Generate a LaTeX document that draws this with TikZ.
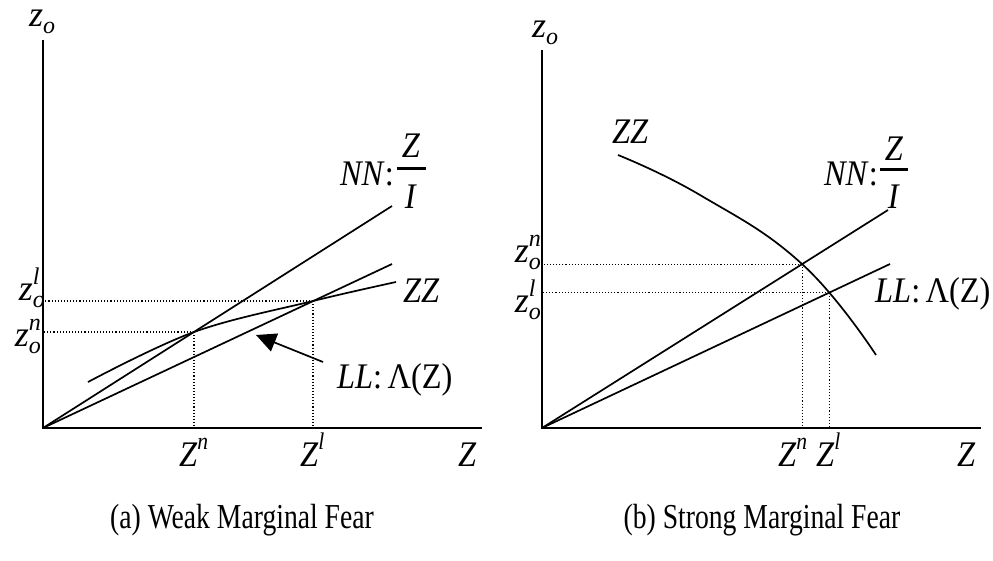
\documentclass[tikz,border=0pt]{standalone}
\usepackage{fontspec}
\usepackage{graphicx}
\setmainfont{Liberation Serif}
\usetikzlibrary{arrows.meta,intersections}
\newcommand\lblfont{\fontsize{36}{40}\selectfont}
\newcommand\scrfont{\fontsize{24}{26}\selectfont}
\newcommand\capfont{\fontsize{35}{38}\selectfont}
\newcommand\sq[1]{\scalebox{0.9}[1]{#1}}
\newcommand\zsub[1]{\textit{z}\makebox[0.36em][l]{\rlap{\raisebox{-0.2em}{\scrfont\textit{o}}}\raisebox{0.42em}{\scrfont\textit{#1}}}}
\newcommand\zonly{\textit{z}\raisebox{-0.2em}{\scrfont\textit{o}}}
\newcommand\Zsup[1]{\textit{Z}\raisebox{0.45em}{\scrfont\textit{#1}}}
\begin{document}
\begin{tikzpicture}[x=1pt,y=-1pt,
  every node/.style={inner sep=0pt, font=\lblfont},
  axis/.style={line width=2.2pt, line join=miter},
  curve/.style={line width=1.7pt},
  guide/.style={dotted, line width=1.1pt},
  fracbar/.style={line width=3pt},
  captext/.style={font=\capfont}]
\useasboundingbox (0,0) rectangle (993,560);

% ---------------- panel (a) ----------------
\coordinate (oA) at (43,428);
\coordinate (yA) at (43,40);
\coordinate (xA) at (482,428);
\coordinate (nnA) at (392,206);
\coordinate (llA) at (392,264);
\coordinate (pnA) at (194,332);
\coordinate (plA) at (313,301);
\coordinate (zsA) at (88,382);
\coordinate (zeA) at (396,282);

\draw[axis] (yA) -- (oA) -- (xA);
\draw[guide] (pnA) -- (pnA -| oA);
\draw[guide] (pnA) -- (pnA |- oA);
\draw[guide] (plA) -- (plA -| oA);
\draw[guide] (plA) -- (plA |- oA);
\draw[curve] (oA) -- (nnA);
\draw[curve] (oA) -- (llA);
\draw[curve] plot[smooth, tension=0.6] coordinates {(zsA) (pnA) (plA) (zeA)};

\coordinate (arT) at (323,362);
\coordinate (arH) at (256,335);
\draw[curve, -{Triangle[length=20pt,width=19pt]}] (arT) -- (arH);

\node[anchor=base west] (zoA) at (29,26) {\zonly};
\node[anchor=base east] (zlA) at (46,300) {\zsub{l}};
\node[anchor=base east] (znA) at (42,346) {\zsub{n}};
\node[anchor=base west] (ZnA) at (179,466) {\sq{\Zsup{n}}};
\node[anchor=base west] (ZlA) at (300,466) {\sq{\Zsup{l}}};
\node[anchor=base west] (ZA) at (458,466) {\sq{\textit{Z}}};
\node[anchor=base west] (zzA) at (403,302) {\sq{\textit{ZZ}}};
\node[anchor=base west] (llabA) at (337,388) {\sq{\textit{LL}:\,Λ(Z)}};
\node[anchor=base east] (nnlabA) at (394,185) {\sq{\textit{NN}:}};
\node[anchor=base] (fzA) at (411,157) {\sq{\textit{Z}}};
\node[anchor=base] (fiA) at (411,208) {\sq{\textit{I}}};
\coordinate (fbA1) at (397,168);
\coordinate (fbA2) at (426,168);
\draw[fracbar] (fbA1) -- (fbA2);

% ---------------- panel (b) ----------------
\coordinate (oB) at (542,428);
\coordinate (yB) at (542,50);
\coordinate (xB) at (981,428);
\coordinate (nnB) at (888,210);
\coordinate (llB) at (890,264);

\draw[curve, name path=zzB] plot[smooth, tension=0.75] coordinates {(618,155) (700,195) (802,264) (876,355)};
\draw[curve, name path=nnBp] (oB) -- (nnB);
\draw[curve, name path=llBp] (oB) -- (llB);
\path[name intersections={of=zzB and nnBp, by=pnB}];
\path[name intersections={of=zzB and llBp, by=plB}];

\draw[axis] (yB) -- (oB) -- (xB);
\draw[guide] (pnB) -- (pnB -| oB);
\draw[guide] (pnB) -- (pnB |- oB);
\draw[guide] (plB) -- (plB -| oB);
\draw[guide] (plB) -- (plB |- oB);

\node[anchor=base west] (zoB) at (532,37) {\zonly};
\node[anchor=base east] (znB) at (542,262) {\zsub{n}};
\node[anchor=base east] (zlB) at (542,312) {\zsub{l}};
\node[anchor=base west] (ZnB) at (778,466) {\sq{\Zsup{n}}};
\node[anchor=base west] (ZlB) at (816,466) {\sq{\Zsup{l}}};
\node[anchor=base west] (ZB) at (957,466) {\sq{\textit{Z}}};
\node[anchor=base west] (zzB) at (612,143) {\sq{\textit{ZZ}}};
\node[anchor=base west] (llabB) at (875,302) {\sq{\textit{LL}:\,Λ(Z)}};
\node[anchor=base east] (nnlabB) at (878,185) {\sq{\textit{NN}:}};
\node[anchor=base] (fzB) at (894,160) {\sq{\textit{Z}}};
\node[anchor=base] (fiB) at (894,208) {\sq{\textit{I}}};
\coordinate (fbB1) at (880,169);
\coordinate (fbB2) at (908,169);
\draw[fracbar] (fbB1) -- (fbB2);

% ---------------- captions ----------------
\node[captext] (capA) at (242,520) {\scalebox{0.79}[1]{(a) Weak Marginal Fear}};
\node[captext] (capB) at (762,520) {\scalebox{0.79}[1]{(b) Strong Marginal Fear}};
\end{tikzpicture}
\end{document}
